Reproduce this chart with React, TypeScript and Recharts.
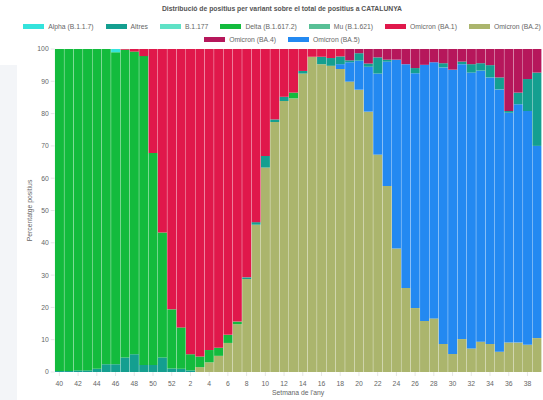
import React from 'react';
import { BarChart, Bar, XAxis, YAxis, Label } from 'recharts';

const weeks = [
  '40', '41', '42', '43', '44', '45', '46', '47', '48', '49', '50', '51', '52',
  '1', '2', '3', '4', '5', '6', '7', '8', '9', '10', '11', '12', '13', '14', '15',
  '16', '17', '18', '19', '20', '21', '22', '23', '24', '25', '26', '27', '28', '29',
  '30', '31', '32', '33', '34', '35', '36', '37', '38', '39',
];

const alpha = [0, 0, 0, 0, 0, 0, 1.0, 0, 0, 0, 0, 0, 0, 0, 0, 0, 0, 0, 0, 0, 0, 0, 0, 0, 0, 0, 0, 0, 0, 0, 0, 0, 0, 0, 0, 0, 0, 0, 0, 0, 0, 0, 0, 0, 0, 0, 0, 0, 0, 0, 0, 0];
const altres = [0.3, 0.3, 0.5, 0.5, 1.0, 2.4, 2.4, 4.5, 5.5, 2.2, 2.2, 4.5, 1.1, 1.0, 0.5, 0, 0, 0, 0, 0, 0.5, 0.8, 3.6, 0.8, 1.3, 0, 0.8, 0, 2.3, 2.4, 2.4, 0.6, 2.3, 1.0, 5.0, 0.6, 0, 0, 1.6, 0, 0, 1.3, 0, 0.8, 2.6, 2.3, 3.8, 3.7, 0.5, 3.6, 9.9, 22.7];
const b1177 = [0, 0, 0, 0, 0, 0, 0, 0, 0, 0, 0, 0, 0, 0, 0, 0, 0, 0, 0, 0, 0, 0, 0, 0, 0, 0, 0, 0, 0, 0, 0, 0, 0, 0, 0, 0, 0, 0, 0, 0, 0, 0, 0, 0, 0, 0, 0, 0, 0, 0, 0, 0];
const delta = [99.7, 99.7, 99.5, 99.5, 99.0, 97.6, 96.6, 95.3, 93.7, 95.6, 65.6, 38.7, 18.3, 12.8, 5.0, 3.3, 3.8, 2.5, 2.5, 0.8, 0, 0, 0, 0, 0, 1.8, 0, 0, 0, 0, 0, 0, 0, 0, 0, 0, 0, 0, 0, 0, 0, 0, 0, 0, 0, 0, 0, 0, 0, 0, 0, 0];
const mu = [0, 0, 0, 0, 0, 0, 0, 0, 0, 0, 0, 0, 0, 0, 0, 0, 0, 0, 0, 0, 0, 0, 0, 0, 0, 0, 0, 0, 0, 0, 0, 0, 0, 0, 0, 0, 0, 0, 0, 0, 0, 0, 0, 0, 0, 0, 0, 0, 0, 0, 0, 0];
const ba1 = [0, 0, 0, 0, 0, 0, 0, 0.2, 0.8, 2.2, 32.2, 56.8, 80.6, 86.2, 94.5, 95.2, 93.2, 92.5, 88.5, 84.4, 70.7, 53.6, 33.1, 21.8, 14.8, 13.5, 6.8, 2.4, 2.4, 2.8, 2.3, 0, 0, 0, 0, 0, 0, 0, 0, 0, 0, 0, 0, 0, 0, 0, 0, 0, 0, 0, 0, 0];
const ba2 = [0, 0, 0, 0, 0, 0, 0, 0, 0, 0, 0, 0, 0, 0, 0, 1.5, 3.0, 5.0, 9.0, 14.8, 28.8, 45.6, 63.3, 77.4, 83.9, 84.7, 92.4, 97.6, 95.3, 94.8, 93.8, 89.9, 87.4, 80.6, 67.3, 57.6, 38.2, 26.0, 19.8, 15.8, 16.6, 8.7, 5.6, 10.2, 7.3, 9.4, 8.7, 6.3, 9.1, 9.1, 8.4, 10.5];
const ba4 = [0, 0, 0, 0, 0, 0, 0, 0, 0, 0, 0, 0, 0, 0, 0, 0, 0, 0, 0, 0, 0, 0, 0, 0, 0, 0, 0, 0, 0, 0, 0, 3.5, 1.3, 4.5, 2.6, 3.3, 3.3, 4.7, 5.9, 4.9, 4.1, 4.4, 6.4, 3.9, 4.7, 4.4, 5.0, 8.8, 19.2, 13.5, 9.3, 7.3];
const ba5 = [0, 0, 0, 0, 0, 0, 0, 0, 0, 0, 0, 0, 0, 0, 0, 0, 0, 0, 0, 0, 0, 0, 0, 0, 0, 0, 0, 0, 0, 0, 1.5, 6.0, 9.0, 13.9, 25.1, 38.5, 58.5, 69.3, 72.7, 79.3, 79.3, 85.6, 88.0, 85.1, 85.4, 83.9, 82.5, 81.2, 71.2, 73.8, 72.4, 59.5];

const yTicks = [0, 10, 20, 30, 40, 50, 60, 70, 80, 90, 100];

const series = [
  { key: 'alpha', name: 'Alpha (B.1.1.7)', color: '#34e3dc', values: alpha },
  { key: 'altres', name: 'Altres', color: '#149f90', values: altres },
  { key: 'b1177', name: 'B.1.177', color: '#5fe2c6', values: b1177 },
  { key: 'delta', name: 'Delta (B.1.617.2)', color: '#13bb3d', values: delta },
  { key: 'mu', name: 'Mu (B.1.621)', color: '#58c096', values: mu },
  { key: 'ba1', name: 'Omicron (BA.1)', color: '#e0184b', values: ba1 },
  { key: 'ba2', name: 'Omicron (BA.2)', color: '#abb56d', values: ba2 },
  { key: 'ba4', name: 'Omicron (BA.4)', color: '#b6175b', values: ba4 },
  { key: 'ba5', name: 'Omicron (BA.5)', color: '#2389f1', values: ba5 },
];

const stackOrder = ['ba2', 'ba5', 'altres', 'delta', 'b1177', 'mu', 'alpha', 'ba1', 'ba4'];

const data = weeks.map((w, i) => {
  const row: Record<string, string | number> = { week: w };
  series.forEach((s) => {
    row[s.key] = s.values[i];
  });
  return row;
});

const FONT = '"Liberation Sans", Arial, Helvetica, sans-serif';
const FS = 6.8;

function LegendItem({ name, color }: { name: string; color: string }) {
  return (
    <span style={{ display: 'inline-flex', alignItems: 'center', margin: '0 6px', whiteSpace: 'nowrap' }}>
      <span style={{ display: 'inline-block', width: 21, height: 5, background: color, marginRight: 4 }} />
      <span>{name}</span>
    </span>
  );
}

export default function App() {
  const row1 = series.slice(0, 7);
  const row2 = series.slice(7);
  return (
    <div style={{ position: 'absolute', left: 0, top: 0, width: 543, height: 400, background: '#fff', overflow: 'hidden', fontFamily: FONT }}>
      <div style={{ position: 'absolute', left: 0, top: 65, width: 17, height: 335, background: '#f3f5f8' }} />
      <div style={{ position: 'absolute', left: 0, top: 4, width: 564, textAlign: 'center', fontSize: FS, fontWeight: 'bold', lineHeight: '9px', color: '#555' }}>
        Distribució de positius per variant sobre el total de positius a CATALUNYA
      </div>
      <div style={{ position: 'absolute', left: 0, top: 21.5, width: 564, height: 9, fontSize: FS, lineHeight: '9px', color: '#666', display: 'flex', justifyContent: 'center' }}>
        {row1.map((s) => <LegendItem key={s.key} name={s.name} color={s.color} />)}
      </div>
      <div style={{ position: 'absolute', left: 0, top: 34.5, width: 564, height: 9, fontSize: FS, lineHeight: '9px', color: '#666', display: 'flex', justifyContent: 'center' }}>
        {row2.map((s) => <LegendItem key={s.key} name={s.name} color={s.color} />)}
      </div>
      <div style={{ position: 'absolute', left: 0, top: 0 }}>
        <BarChart
          width={543}
          height={400}
          data={data}
          margin={{ top: 49, right: 1.5, left: 0, bottom: 2 }}
          barCategoryGap={0.25}
        >
          <XAxis
            dataKey="week"
            interval={1}
            tick={{ fontSize: FS, fill: '#666', fontFamily: FONT }}
            tickSize={4}
            tickMargin={5}
            tickLine={{ stroke: '#e6e6e6' }}
            axisLine={false}
            height={26}
          >
            <Label value="Setmana de l'any" position="insideBottom" offset={3} style={{ fontSize: FS, fill: '#666', fontFamily: FONT }} />
          </XAxis>
          <YAxis
            type="number"
            domain={[0, 100]}
            ticks={yTicks}
            width={54.7}
            tick={{ fontSize: FS, fill: '#666', fontFamily: FONT }}
            tickSize={4}
            tickMargin={2}
            tickLine={{ stroke: '#e6e6e6' }}
            axisLine={false}
            allowDataOverflow
          >
            <Label value="Percentatge positius" angle={-90} position="insideLeft" offset={30} style={{ fontSize: FS, fill: '#666', fontFamily: FONT, textAnchor: 'middle' }} />
          </YAxis>
          {stackOrder.map((k) => {
            const s = series.find((x) => x.key === k)!;
            return (
              <Bar key={k} dataKey={k} name={s.name} stackId="v" fill={s.color} isAnimationActive={false} />
            );
          })}
        </BarChart>
      </div>
    </div>
  );
}
